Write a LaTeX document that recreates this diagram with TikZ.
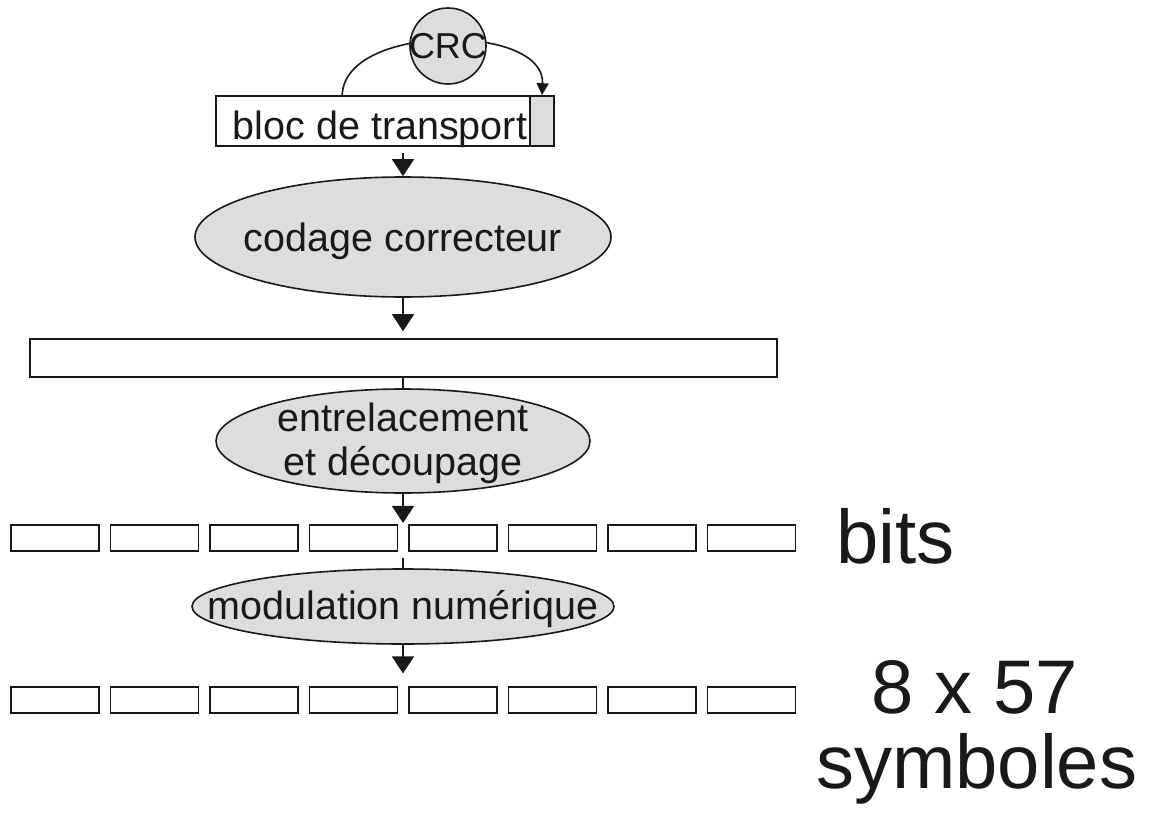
\documentclass[tikz,border=0pt]{standalone}
\usepackage{fontspec}
\setmainfont{Liberation Sans}
\usetikzlibrary{arrows.meta,shapes.geometric,calc}
\definecolor{shade}{RGB}{221,221,221}
\definecolor{ink}{RGB}{25,25,25}
\begin{document}
\begin{tikzpicture}[x=1pt,y=-1pt,
  line/.style={draw=ink, line width=1.6pt},
  arr/.style={line, -{Triangle[width=22pt,length=17pt]}},
  lbl/.style={font=\fontsize{39.5}{44}\selectfont, text=ink, inner sep=0},
  big/.style={font=\fontsize{76}{80}\selectfont, text=ink, inner sep=0, anchor=base west},
  oval/.style={ellipse, draw=ink, line width=1.6pt, fill=shade, inner sep=0},
  cell/.style={rectangle, draw=ink, line width=1.6pt, minimum width=88pt, minimum height=26pt, inner sep=0}]
\useasboundingbox[fill=white] (0,0) rectangle (1149,816);

% transport block
\node[cell, minimum width=314pt, minimum height=50pt,
      label={[lbl,yshift=-8pt,xshift=7pt]center:bloc de transport}] (tb) at (373,121) {};
\node[cell, fill=shade, minimum width=24pt, minimum height=50pt] (crcb) at (542,121) {};
\draw[line, -{Triangle[width=12pt,length=12pt]}] ($(tb.north west)+(127,0)$)
  .. controls +(2,-72) and +(3.5,-72) .. (crcb.north);
\node[circle, draw=ink, line width=1.6pt, fill=shade, minimum size=76pt, inner sep=0,
      label={[lbl,font=\fontsize{36}{40}\selectfont]center:CRC}] (crc) at (448,46) {};

% coding
\node[oval, minimum width=416pt, minimum height=120pt,
      label={[lbl,yshift=-4pt]center:codage correcteur}] (cc) at (403,237) {};
\draw[arr, shorten <=6pt] (cc.north |- tb.south) -- (cc.north);

\node[cell, minimum width=747pt, minimum height=38pt] (lr) at (403.5,358) {};
\draw[arr, shorten >=7pt] (cc.south) -- (cc.south |- lr.north);

% interleaving
\node[oval, minimum width=374pt, minimum height=104pt,
      label={[lbl,align=center,yshift=-2pt]center:entrelacement\\et découpage}] (el2) at (403,441) {};
\draw[line] (el2.north |- lr.south) -- (el2.north);

% bits row
\foreach \k in {1,...,8} {
  \node[cell, minimum height=26.5pt] (b\k) at ({55+99.5*(\k-1)},538) {};
}
\draw[arr, shorten >=1pt] (el2.south) -- (el2.south |- b4.north);
\node[big] (bits) at (836,563) {bits};

% modulation
\node[oval, minimum width=422pt, minimum height=75pt,
      label={[lbl,yshift=-3pt]center:modulation numérique}] (el3) at (403,606.5) {};
\draw[line] (el3.north) -- ++(0,-10);

% symbols row
\foreach \k in {1,...,8} {
  \node[cell] (s\k) at ({55+99.5*(\k-1)},699.7) {};
}
\draw[arr, shorten >=12.5pt] (el3.south) -- (el3.south |- s4.north);
\node[big] (n857) at (871,713) {8 x 57};
\node[big] (sym) at (816,788) {symboles};
\end{tikzpicture}
\end{document}
